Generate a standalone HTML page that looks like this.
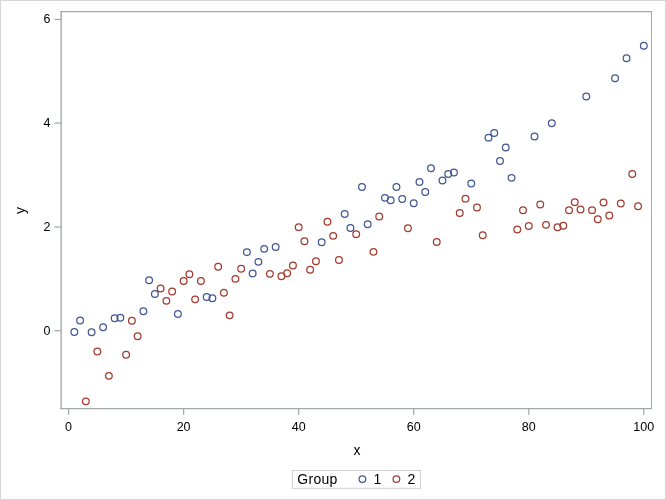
<!DOCTYPE html>
<html><head><meta charset="utf-8"><style>
html,body{margin:0;padding:0;background:#fff;}
body{width:666px;height:500px;overflow:hidden;}
svg{display:block;will-change:transform;}
text{font-family:"Liberation Sans",sans-serif;fill:#000;}
.tk{font-size:12.5px;}
.lb{font-size:14px;}
</style></head><body>
<svg width="666" height="500" viewBox="0 0 666 500">
<rect x="0.5" y="0.5" width="665" height="499" fill="#fff" stroke="#d6d6d6" stroke-width="1"/>
<line x1="60.4" y1="11.6" x2="652" y2="11.6" stroke="#a3a8ad" stroke-width="1.1"/>
<line x1="60.4" y1="408.6" x2="652" y2="408.6" stroke="#a3a8ad" stroke-width="1.1"/>
<line x1="61.15" y1="11.05" x2="61.15" y2="409.15" stroke="#a3a8ad" stroke-width="1.35"/>
<line x1="651.5" y1="11.05" x2="651.5" y2="409.15" stroke="#a3a8ad" stroke-width="1.0"/>
<line x1="54.4" y1="19.4" x2="61" y2="19.4" stroke="#a3a8ad" stroke-width="1.2"/>
<text x="50.5" y="23.4" text-anchor="end" class="tk">6</text>
<line x1="54.4" y1="123.0" x2="61" y2="123.0" stroke="#a3a8ad" stroke-width="1.2"/>
<text x="50.5" y="127.0" text-anchor="end" class="tk">4</text>
<line x1="54.4" y1="227.0" x2="61" y2="227.0" stroke="#a3a8ad" stroke-width="1.2"/>
<text x="50.5" y="231.0" text-anchor="end" class="tk">2</text>
<line x1="54.4" y1="330.7" x2="61" y2="330.7" stroke="#a3a8ad" stroke-width="1.2"/>
<text x="50.5" y="334.7" text-anchor="end" class="tk">0</text>
<line x1="68.60" y1="408.6" x2="68.60" y2="414.9" stroke="#a3a8ad" stroke-width="1.2"/>
<text x="68.60" y="431" text-anchor="middle" class="tk">0</text>
<line x1="183.64" y1="408.6" x2="183.64" y2="414.9" stroke="#a3a8ad" stroke-width="1.2"/>
<text x="183.64" y="431" text-anchor="middle" class="tk">20</text>
<line x1="298.68" y1="408.6" x2="298.68" y2="414.9" stroke="#a3a8ad" stroke-width="1.2"/>
<text x="298.68" y="431" text-anchor="middle" class="tk">40</text>
<line x1="413.72" y1="408.6" x2="413.72" y2="414.9" stroke="#a3a8ad" stroke-width="1.2"/>
<text x="413.72" y="431" text-anchor="middle" class="tk">60</text>
<line x1="528.76" y1="408.6" x2="528.76" y2="414.9" stroke="#a3a8ad" stroke-width="1.2"/>
<text x="528.76" y="431" text-anchor="middle" class="tk">80</text>
<line x1="643.80" y1="408.6" x2="643.80" y2="414.9" stroke="#a3a8ad" stroke-width="1.2"/>
<text x="643.80" y="431" text-anchor="middle" class="tk">100</text>
<text x="357" y="455.4" text-anchor="middle" class="lb">x</text>
<text transform="translate(25.2,210.5) rotate(-90)" text-anchor="middle" class="lb">y</text>
<rect x="292.5" y="470.5" width="128" height="17.8" fill="none" stroke="#d0d0d0" stroke-width="1"/>
<text x="297.3" y="483.8" class="lb" style="letter-spacing:0.3px">Group</text>
<circle cx="362.4" cy="479.1" r="3.35" stroke="#445694" fill="none" stroke-width="1.25"/>
<text x="373.5" y="483.6" class="lb">1</text>
<circle cx="396.4" cy="479.1" r="3.35" stroke="#A23A2E" fill="none" stroke-width="1.25"/>
<text x="407.5" y="483.6" class="lb">2</text>
<g fill="none" stroke-width="1.25"><circle cx="74.35" cy="332.05" r="3.35" stroke="#445694"/><circle cx="80.10" cy="320.55" r="3.35" stroke="#445694"/><circle cx="85.86" cy="401.35" r="3.35" stroke="#A23A2E"/><circle cx="91.61" cy="332.25" r="3.35" stroke="#445694"/><circle cx="97.36" cy="351.45" r="3.35" stroke="#A23A2E"/><circle cx="103.11" cy="327.15" r="3.35" stroke="#445694"/><circle cx="108.86" cy="375.85" r="3.35" stroke="#A23A2E"/><circle cx="114.62" cy="318.15" r="3.35" stroke="#445694"/><circle cx="120.37" cy="317.65" r="3.35" stroke="#445694"/><circle cx="126.12" cy="354.65" r="3.35" stroke="#A23A2E"/><circle cx="131.87" cy="320.65" r="3.35" stroke="#A23A2E"/><circle cx="137.62" cy="336.25" r="3.35" stroke="#A23A2E"/><circle cx="143.38" cy="311.15" r="3.35" stroke="#445694"/><circle cx="149.13" cy="280.25" r="3.35" stroke="#445694"/><circle cx="154.88" cy="293.95" r="3.35" stroke="#445694"/><circle cx="160.63" cy="288.55" r="3.35" stroke="#A23A2E"/><circle cx="166.38" cy="300.85" r="3.35" stroke="#A23A2E"/><circle cx="172.14" cy="291.55" r="3.35" stroke="#A23A2E"/><circle cx="177.89" cy="314.05" r="3.35" stroke="#445694"/><circle cx="183.64" cy="280.95" r="3.35" stroke="#A23A2E"/><circle cx="189.39" cy="274.25" r="3.35" stroke="#A23A2E"/><circle cx="195.14" cy="299.35" r="3.35" stroke="#A23A2E"/><circle cx="200.90" cy="280.95" r="3.35" stroke="#A23A2E"/><circle cx="206.65" cy="297.05" r="3.35" stroke="#445694"/><circle cx="212.40" cy="298.25" r="3.35" stroke="#445694"/><circle cx="218.15" cy="266.65" r="3.35" stroke="#A23A2E"/><circle cx="223.90" cy="292.65" r="3.35" stroke="#A23A2E"/><circle cx="229.66" cy="315.35" r="3.35" stroke="#A23A2E"/><circle cx="235.41" cy="278.85" r="3.35" stroke="#A23A2E"/><circle cx="241.16" cy="268.65" r="3.35" stroke="#A23A2E"/><circle cx="246.91" cy="252.15" r="3.35" stroke="#445694"/><circle cx="252.66" cy="273.45" r="3.35" stroke="#445694"/><circle cx="258.42" cy="261.85" r="3.35" stroke="#445694"/><circle cx="264.17" cy="248.85" r="3.35" stroke="#445694"/><circle cx="269.92" cy="273.85" r="3.35" stroke="#A23A2E"/><circle cx="275.67" cy="247.05" r="3.35" stroke="#445694"/><circle cx="281.42" cy="276.25" r="3.35" stroke="#A23A2E"/><circle cx="287.18" cy="273.25" r="3.35" stroke="#A23A2E"/><circle cx="292.93" cy="265.45" r="3.35" stroke="#A23A2E"/><circle cx="298.68" cy="227.15" r="3.35" stroke="#A23A2E"/><circle cx="304.43" cy="241.25" r="3.35" stroke="#A23A2E"/><circle cx="310.18" cy="269.65" r="3.35" stroke="#A23A2E"/><circle cx="315.94" cy="261.25" r="3.35" stroke="#A23A2E"/><circle cx="321.69" cy="242.25" r="3.35" stroke="#445694"/><circle cx="327.44" cy="221.75" r="3.35" stroke="#A23A2E"/><circle cx="333.19" cy="235.85" r="3.35" stroke="#A23A2E"/><circle cx="338.94" cy="260.05" r="3.35" stroke="#A23A2E"/><circle cx="344.70" cy="214.05" r="3.35" stroke="#445694"/><circle cx="350.45" cy="228.05" r="3.35" stroke="#445694"/><circle cx="356.20" cy="234.15" r="3.35" stroke="#A23A2E"/><circle cx="361.95" cy="187.05" r="3.35" stroke="#445694"/><circle cx="367.70" cy="224.25" r="3.35" stroke="#445694"/><circle cx="373.46" cy="251.85" r="3.35" stroke="#A23A2E"/><circle cx="379.21" cy="216.45" r="3.35" stroke="#A23A2E"/><circle cx="384.96" cy="197.85" r="3.35" stroke="#445694"/><circle cx="390.71" cy="200.25" r="3.35" stroke="#445694"/><circle cx="396.46" cy="187.05" r="3.35" stroke="#445694"/><circle cx="402.22" cy="199.05" r="3.35" stroke="#445694"/><circle cx="407.97" cy="228.25" r="3.35" stroke="#A23A2E"/><circle cx="413.72" cy="203.25" r="3.35" stroke="#445694"/><circle cx="419.47" cy="182.05" r="3.35" stroke="#445694"/><circle cx="425.22" cy="191.95" r="3.35" stroke="#445694"/><circle cx="430.98" cy="168.25" r="3.35" stroke="#445694"/><circle cx="436.73" cy="242.05" r="3.35" stroke="#A23A2E"/><circle cx="442.48" cy="180.55" r="3.35" stroke="#445694"/><circle cx="448.23" cy="174.05" r="3.35" stroke="#445694"/><circle cx="453.98" cy="172.45" r="3.35" stroke="#445694"/><circle cx="459.74" cy="213.05" r="3.35" stroke="#A23A2E"/><circle cx="465.49" cy="198.65" r="3.35" stroke="#A23A2E"/><circle cx="471.24" cy="183.55" r="3.35" stroke="#445694"/><circle cx="476.99" cy="207.55" r="3.35" stroke="#A23A2E"/><circle cx="482.74" cy="235.25" r="3.35" stroke="#A23A2E"/><circle cx="488.50" cy="137.65" r="3.35" stroke="#445694"/><circle cx="494.25" cy="133.05" r="3.35" stroke="#445694"/><circle cx="500.00" cy="161.05" r="3.35" stroke="#445694"/><circle cx="505.75" cy="147.45" r="3.35" stroke="#445694"/><circle cx="511.50" cy="177.85" r="3.35" stroke="#445694"/><circle cx="517.26" cy="229.55" r="3.35" stroke="#A23A2E"/><circle cx="523.01" cy="210.25" r="3.35" stroke="#A23A2E"/><circle cx="528.76" cy="226.05" r="3.35" stroke="#A23A2E"/><circle cx="534.51" cy="136.45" r="3.35" stroke="#445694"/><circle cx="540.26" cy="204.55" r="3.35" stroke="#A23A2E"/><circle cx="546.02" cy="224.85" r="3.35" stroke="#A23A2E"/><circle cx="551.77" cy="123.25" r="3.35" stroke="#445694"/><circle cx="557.52" cy="227.25" r="3.35" stroke="#A23A2E"/><circle cx="563.27" cy="225.75" r="3.35" stroke="#A23A2E"/><circle cx="569.02" cy="210.25" r="3.35" stroke="#A23A2E"/><circle cx="574.78" cy="202.15" r="3.35" stroke="#A23A2E"/><circle cx="580.53" cy="209.55" r="3.35" stroke="#A23A2E"/><circle cx="586.28" cy="96.45" r="3.35" stroke="#445694"/><circle cx="592.03" cy="210.15" r="3.35" stroke="#A23A2E"/><circle cx="597.78" cy="219.25" r="3.35" stroke="#A23A2E"/><circle cx="603.54" cy="202.55" r="3.35" stroke="#A23A2E"/><circle cx="609.29" cy="215.45" r="3.35" stroke="#A23A2E"/><circle cx="615.04" cy="78.15" r="3.35" stroke="#445694"/><circle cx="620.79" cy="203.45" r="3.35" stroke="#A23A2E"/><circle cx="626.54" cy="58.25" r="3.35" stroke="#445694"/><circle cx="632.30" cy="174.05" r="3.35" stroke="#A23A2E"/><circle cx="638.05" cy="206.25" r="3.35" stroke="#A23A2E"/><circle cx="643.80" cy="45.65" r="3.35" stroke="#445694"/></g>
</svg>
</body></html>
